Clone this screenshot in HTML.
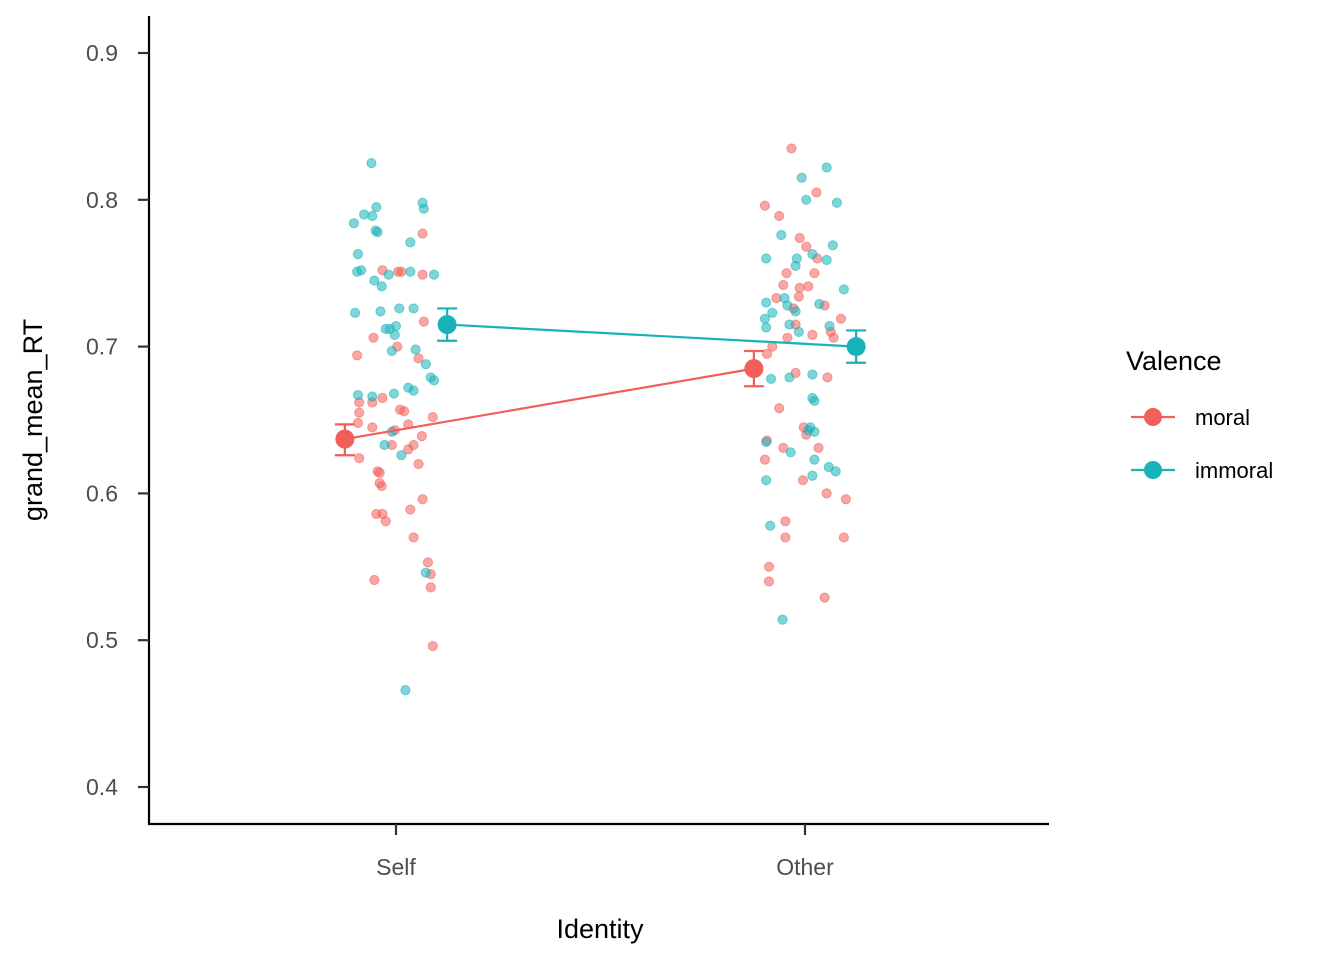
<!DOCTYPE html>
<html><head><meta charset="utf-8"><style>
html,body{margin:0;padding:0;background:#fff;}
svg{display:block;font-family:"Liberation Sans",Arial,sans-serif;}
</style></head><body>
<svg id="chart" width="1344" height="960">
<g id="points"></g>
<g id="means"></g>
<g id="axes"></g>
<text x="600" y="938" font-size="27" text-anchor="middle" fill="#000">Identity</text>
<text transform="translate(42,420) rotate(-90)" font-size="27" text-anchor="middle" fill="#000">grand_mean_RT</text>
<g>
<text x="1126" y="370" font-size="27" fill="#000">Valence</text>
<g><line x1="1131" x2="1175" y1="417" y2="417" stroke="#F25F5A" stroke-width="2.2"/><circle cx="1153" cy="417" r="9" fill="#F25F5A"/><text x="1195" y="425" font-size="22" fill="#000">moral</text></g>
<g><line x1="1131" x2="1175" y1="470" y2="470" stroke="#17B3B8" stroke-width="2.2"/><circle cx="1153" cy="470" r="9" fill="#17B3B8"/><text x="1195" y="478" font-size="22" fill="#000">immoral</text></g>
</g>
</svg>
<script>
const categories = ["Self","Other"];
const yTicks = [0.4,0.5,0.6,0.7,0.8,0.9];
const selfMoralVals = [0.694,0.662,0.655,0.648,0.662,0.645,0.624,0.615,0.614,0.605,0.607,0.586,0.586,0.581,0.541,0.752,0.751,0.700,0.665,0.657,0.656,0.643,0.633,0.647,0.633,0.630,0.620,0.639,0.692,0.717,0.749,0.777,0.652,0.589,0.570,0.596,0.553,0.545,0.536,0.496,0.706,0.751];
const selfMoralJit = [-0.095,-0.09,-0.09,-0.093,-0.058,-0.058,-0.09,-0.045,-0.04,-0.035,-0.04,-0.048,-0.033,-0.025,-0.053,-0.033,0.005,0.003,-0.033,0.01,0.02,-0.003,-0.01,0.03,0.043,0.03,0.055,0.063,0.055,0.068,0.065,0.065,0.09,0.035,0.043,0.065,0.078,0.085,0.085,0.09,-0.055,0.013];
const selfImmoralVals = [0.825,0.784,0.790,0.795,0.789,0.779,0.778,0.763,0.752,0.751,0.745,0.741,0.749,0.726,0.724,0.723,0.712,0.712,0.714,0.708,0.697,0.667,0.666,0.668,0.633,0.642,0.626,0.771,0.751,0.726,0.698,0.688,0.679,0.677,0.672,0.670,0.749,0.798,0.794,0.466,0.546];
const selfImmoralJit = [-0.06,-0.103,-0.078,-0.048,-0.058,-0.05,-0.045,-0.093,-0.085,-0.095,-0.053,-0.035,-0.018,0.008,-0.038,-0.1,-0.025,-0.015,0,-0.003,-0.01,-0.093,-0.058,-0.005,-0.028,-0.01,0.013,0.035,0.035,0.043,0.048,0.073,0.085,0.093,0.03,0.043,0.093,0.065,0.068,0.023,0.073];
const otherMoralVals = [0.835,0.805,0.796,0.789,0.774,0.768,0.760,0.750,0.750,0.741,0.742,0.740,0.734,0.733,0.728,0.726,0.715,0.719,0.700,0.695,0.706,0.708,0.710,0.706,0.679,0.682,0.658,0.636,0.623,0.631,0.645,0.640,0.631,0.600,0.609,0.596,0.581,0.570,0.550,0.540,0.570,0.529];
const otherMoralJit = [-0.033,0.028,-0.098,-0.063,-0.013,0.003,0.03,-0.045,0.023,0.008,-0.053,-0.013,-0.015,-0.07,0.048,-0.028,-0.023,0.088,-0.08,-0.093,-0.043,0.018,0.063,0.07,0.055,-0.023,-0.063,-0.093,-0.098,-0.053,-0.003,0.003,0.033,0.053,-0.005,0.1,-0.048,-0.048,-0.088,-0.088,0.095,0.048];
const otherImmoralVals = [0.822,0.815,0.800,0.798,0.776,0.760,0.769,0.760,0.755,0.759,0.763,0.739,0.729,0.730,0.733,0.728,0.724,0.723,0.719,0.713,0.715,0.714,0.710,0.679,0.678,0.681,0.665,0.663,0.643,0.642,0.645,0.635,0.628,0.623,0.618,0.615,0.612,0.609,0.578,0.514];
const otherImmoralJit = [0.053,-0.008,0.003,0.078,-0.058,-0.095,0.068,-0.02,-0.023,0.053,0.018,0.095,0.035,-0.095,-0.05,-0.043,-0.023,-0.08,-0.098,-0.095,-0.038,0.06,-0.015,-0.038,-0.083,0.018,0.018,0.023,0.008,0.023,0.013,-0.095,-0.035,0.023,0.058,0.075,0.018,-0.095,-0.085,-0.055];
const moralMeans = [0.637,0.685];
const moralLo = [0.626,0.673];
const moralHi = [0.647,0.697];
const immoralMeans = [0.715,0.700];
const immoralLo = [0.704,0.689];
const immoralHi = [0.726,0.711];

const NS="http://www.w3.org/2000/svg";
function X(i){return 396+409*i;}
function Y(v){return 787-(v-0.4)*1468;}
const DODGE=0.125;
function mk(tag,attrs,parent){const e=document.createElementNS(NS,tag);for(const k in attrs)e.setAttribute(k,attrs[k]);parent.appendChild(e);return e;}
const P=document.getElementById('points');
function drawPts(vals,jit,ci,color,name){
  vals.forEach((v,k)=>{
    const c=mk('circle',{cx:X(ci+jit[k]),cy:Y(v),r:4.6,fill:color,'fill-opacity':0.55,stroke:color,'stroke-opacity':0.55,'stroke-width':1},P);
    
    
  });
}
drawPts(selfMoralVals,selfMoralJit,0,'#F25F5A','point-self-moral');
drawPts(selfImmoralVals,selfImmoralJit,0,'#17B3B8','point-self-immoral');
drawPts(otherMoralVals,otherMoralJit,1,'#F25F5A','point-other-moral');
drawPts(otherImmoralVals,otherImmoralJit,1,'#17B3B8','point-other-immoral');
const M=document.getElementById('means');
function drawMeans(means,lo,hi,off,color,name){
  const pts=means.map((v,i)=>X(i+off)+','+Y(v)).join(' ');
  const l=mk('polyline',{points:pts,fill:'none',stroke:color,'stroke-width':2.2},M);
  
  
  means.forEach((v,i)=>{
    const x=X(i+off);
    const g=mk('g',{},M);
    
    
    mk('path',{d:`M${x-10},${Y(hi[i])}H${x+10}M${x},${Y(hi[i])}V${Y(lo[i])}M${x-10},${Y(lo[i])}H${x+10}`,stroke:color,'stroke-width':2.2,fill:'none'},g);
    mk('circle',{cx:x,cy:Y(v),r:9.5,fill:color},g);
  });
}
drawMeans(moralMeans,moralLo,moralHi,-DODGE,'#F25F5A','moral');
drawMeans(immoralMeans,immoralLo,immoralHi,DODGE,'#17B3B8','immoral');
const A=document.getElementById('axes');
mk('path',{d:'M149,16V824H1049',stroke:'#000','stroke-width':2.2,fill:'none'},A);
yTicks.forEach(t=>{
  const y=Y(t);
  mk('line',{x1:138,x2:149,y1:y,y2:y,stroke:'#333','stroke-width':2.2},A);
  const tx=mk('text',{x:118,y:y+8,'font-size':23,'text-anchor':'end',fill:'#4d4d4d'},A);
  tx.textContent=t.toFixed(1);
  
  
});
categories.forEach((c,i)=>{
  const x=X(i);
  mk('line',{x1:x,x2:x,y1:824,y2:835,stroke:'#333','stroke-width':2.2},A);
  const tx=mk('text',{x:x,y:875,'font-size':23,'text-anchor':'middle',fill:'#4d4d4d'},A);
  tx.textContent=c;
  
  
});
</script>
</body></html>
